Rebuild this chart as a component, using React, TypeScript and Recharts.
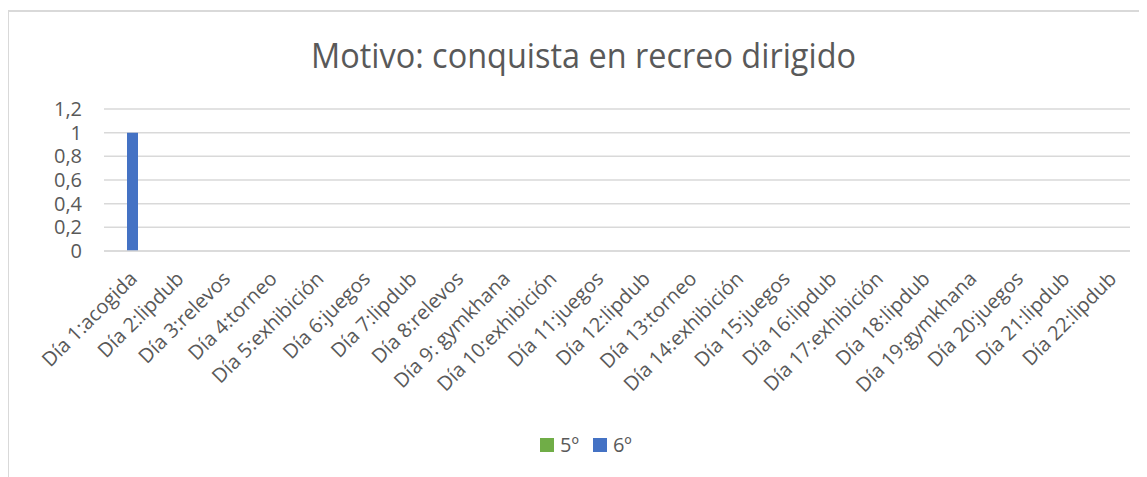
import React from 'react';
import { BarChart, Bar, XAxis, YAxis, CartesianGrid, Legend } from 'recharts';

const categories = [
  'Día 1:acogida', 'Día 2:lipdub', 'Día 3:relevos', 'Día 4:torneo', 'Día 5:exhibición',
  'Día 6:juegos', 'Día 7:lipdub', 'Día 8:relevos', 'Día 9: gymkhana', 'Día 10:exhibición',
  'Día 11:juegos', 'Día 12:lipdub', 'Día 13:torneo', 'Día 14:exhibición', 'Día 15:juegos',
  'Día 16:lipdub', 'Día 17:exhibición', 'Día 18:lipdub', 'Día 19:gymkhana', 'Día 20:juegos',
  'Día 21:lipdub', 'Día 22:lipdub',
];
const quinto = [0, 0, 0, 0, 0, 0, 0, 0, 0, 0, 0, 0, 0, 0, 0, 0, 0, 0, 0, 0, 0, 0];
const sexto = [1, 0, 0, 0, 0, 0, 0, 0, 0, 0, 0, 0, 0, 0, 0, 0, 0, 0, 0, 0, 0, 0];
const yTicks = [0, 0.2, 0.4, 0.6, 0.8, 1, 1.2];
const seriesNames = ['5º', '6º'];
const title = 'Motivo: conquista en recreo dirigido';

const data = categories.map((c, i) => ({ name: c, quinto: quinto[i], sexto: sexto[i] }));

const FONT = '"Open Sans", "Liberation Sans", sans-serif';
const TEXT = '#595959';

const XTick = (props: any) => {
  const { x, y, payload } = props;
  const ax = x + 11;
  const ay = y + 27;
  return (
    <text
      x={ax}
      y={ay}
      transform={`rotate(-45 ${ax} ${ay})`}
      textAnchor="end"
      fill={TEXT}
      fontSize={20}
      fontFamily={FONT}
    >
      {payload.value}
    </text>
  );
};

const LegendContent = (props: any) => {
  const { payload } = props;
  return (
    <div style={{ display: 'flex', alignItems: 'center', fontFamily: FONT, fontSize: 20, color: TEXT, lineHeight: '24px' }}>
      {(payload || []).map((p: any, i: number) => (
        <div key={i} style={{ display: 'flex', alignItems: 'center', marginRight: 14 }}>
          <div style={{ width: 14, height: 14, background: p.color, marginRight: 6 }} />
          <span>{p.value}</span>
        </div>
      ))}
    </div>
  );
};

export default function App() {
  return (
    <div style={{ position: 'relative', width: 1139, height: 469, background: '#fff' }}>
      <div
        style={{
          position: 'absolute',
          left: -1,
          top: 2,
          width: 1200,
          height: 500,
          borderLeft: '2px solid #d9d9d9',
          borderTop: '2px solid #d9d9d9',
          boxSizing: 'border-box',
        }}
      />
      <svg style={{ position: 'absolute', left: 0, top: 0 }} width={1139} height={100}>
        <text
          x={303}
          y={60}
          fontSize={34}
          fontFamily={FONT}
          fill={TEXT}
          textLength={545}
          lengthAdjust="spacingAndGlyphs"
        >
          {title}
        </text>
      </svg>
      <div style={{ position: 'absolute', left: 0, top: 0 }}>
        <BarChart
          width={1139}
          height={469}
          data={data}
          margin={{ top: 101, right: 17, left: 36, bottom: 0 }}
          barGap={0}
        >
          <CartesianGrid vertical={false} stroke="#d9d9d9" strokeWidth={1.5} />
          <XAxis
            dataKey="name"
            interval={0}
            tick={<XTick />}
            tickLine={false}
            axisLine={{ stroke: '#d9d9d9', strokeWidth: 1.5 }}
            height={202}
            tickSize={0}
          />
          <YAxis
            domain={[0, 1.2]}
            ticks={yTicks}
            interval={0}
            width={60}
            axisLine={false}
            tickLine={false}
            tickSize={0}
            tickMargin={22}
            tick={{ fill: TEXT, fontSize: 20, fontFamily: FONT }}
            tickFormatter={(v: number) => String(v).replace('.', ',')}
          />
          <Legend
            content={<LegendContent />}
            wrapperStyle={{ left: 532, top: 425, width: 'auto' }}
          />
          <Bar dataKey="quinto" name={seriesNames[0]} fill="#70ad47" barSize={11} isAnimationActive={false} />
          <Bar dataKey="sexto" name={seriesNames[1]} fill="#4472c4" barSize={11} isAnimationActive={false} />
        </BarChart>
      </div>
    </div>
  );
}
